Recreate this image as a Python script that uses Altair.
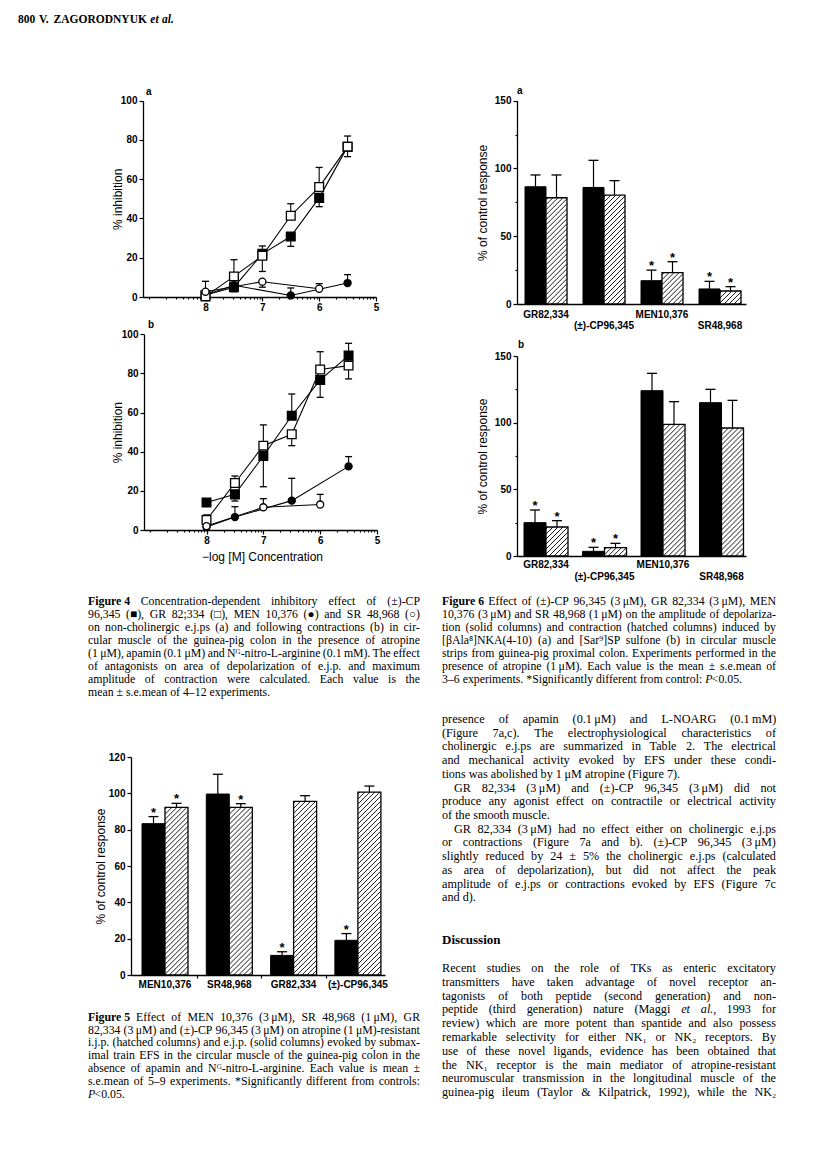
import numpy as np
import pandas as pd
import altair as alt

W, H = 800, 1158
MARGIN = 8


def px(v):
    return float(v) - MARGIN


def py(v):
    return float(v) - MARGIN


# ---------------- Figure 4 : % inhibition vs -log[M] ----------------
MARKERS = {
    "MEN 10,376": ("circle", "black", 50),
    "(±)-CP 96,345": ("square", "black", 76),
    "GR 82,334": ("square", "white", 76),
    "SR 48,968": ("circle", "white", 50),
}
DRAW_ORDER = ["MEN 10,376", "(±)-CP 96,345", "GR 82,334", "SR 48,968"]

conc_all = [8, 7.5, 7, 6.5, 6, 5.5]
conc_men = [8, 7.5, 6.5, 5.5]
conc_sr = [8, 7, 6]

f4a_cp = [1.0, 5.0, 22.0, 30.8, 50.5, 76.6]
f4a_cp_err = [None, 2.7, 26.0, 25.8, 46.0, 71.5]
f4a_gr = [0.3, 10.5, 21.0, 41.4, 56.0, 76.6]
f4a_gr_err = [None, 19.0, 13.0, 47.5, 66.0, 82.0]
f4a_men = [1.0, 6.0, 0.8, 7.1]
f4a_men_err = [None, None, 4.6, 11.4]
f4a_sr = [2.7, 7.8, 4.2]
f4a_sr_err = [8.0, 5.0, 6.8]

f4b_cp = [14.1, 18.2, 37.8, 58.4, 76.7, 89.1]
f4b_cp_err = [None, 14.8, 22.1, 69.5, 67.8, 95.4]
f4b_gr = [5.1, 24.0, 43.1, 48.9, 82.0, 84.0]
f4b_gr_err = [7.7, 27.6, 53.7, 43.1, 91.1, 77.2]
f4b_men = [1.5, 6.6, 15.0, 32.5]
f4b_men_err = [None, 11.9, 26.4, 37.5]
f4b_sr = [2.0, 11.6, 13.0]
f4b_sr_err = [None, 16.0, 18.2]

x4_major = [8, 7, 6, 5]
x4_minor = [9] + [round(d - np.log10(k), 4) for d in (9, 8, 7, 6) for k in range(2, 10)]
y4_ticks = [0, 20, 40, 60, 80, 100]

# ---------------- Figure 5 ----------------
f5_groups = ["MEN10,376", "SR48,968", "GR82,334", "(±)-CP96,345"]
f5_solid = [83.3, 99.6, 10.8, 19.1]
f5_solid_err = [87.2, 110.5, 12.8, 22.8]
f5_hatch = [92.3, 92.3, 95.6, 100.7]
f5_hatch_err = [94.5, 94.3, 98.7, 104.0]
f5_sig_solid = [True, False, True, True]
f5_sig_hatch = [True, True, False, False]

# ---------------- Figure 6 ----------------
f6_groups = ["GR82,334", "(±)-CP96,345", "MEN10,376", "SR48,968"]
f6a_solid = [86.5, 86.0, 17.2, 11.1]
f6a_solid_err = [95.2, 106.0, 25.0, 16.7]
f6a_hatch = [78.4, 80.4, 23.1, 9.6]
f6a_hatch_err = [95.2, 91.0, 31.2, 12.8]
f6a_sig_solid = [False, False, True, True]
f6a_sig_hatch = [False, False, True, True]

f6b_solid = [25.0, 3.5, 124.0, 115.0]
f6b_solid_err = [34.5, 6.5, 137.0, 125.0]
f6b_hatch = [21.75, 6.25, 98.75, 96.0]
f6b_hatch_err = [26.5, 9.5, 115.75, 116.75]
f6b_sig_solid = [True, True, False, False]
f6b_sig_hatch = [True, True, False, False]


def letter_layer(letter, x, y):
    return alt.Chart(pd.DataFrame({"t": [letter]})).mark_text(
        font="Liberation Sans", fontWeight="bold", fontSize=10, align="left",
        baseline="middle", color="black"
    ).encode(x=alt.value(px(x)), y=alt.value(py(y)), text="t:N")


def conc_panel(series, xl, xr, yb, yt, xtitle, letter, lxy):
    rows = []
    for name, xs, ys, es in series:
        for xv, yv, ev in zip(xs, ys, es):
            rows.append({"series": name, "x": float(xv), "y": float(yv),
                         "err": np.nan if ev is None else float(ev)})
    df = pd.DataFrame(rows)
    ux = (xr - xl) / (9.1 - 5.0)
    half_cap = 3.5 / ux
    df["xa"] = df["x"] - half_cap
    df["xb"] = df["x"] + half_cap
    eb = df.dropna(subset=["err"])

    xsc = alt.Scale(domain=[9.1, 5.0], range=[px(xl), px(xr)], nice=False, zero=False)
    ysc = alt.Scale(domain=[0, 100], range=[py(yb), py(yt)], nice=False, zero=False)
    major = "abs(datum.value - round(datum.value)) < 0.001 && datum.value < 8.5"
    xkw = dict(orient="bottom", offset=py(yb) - H, values=sorted(x4_major + x4_minor),
               labelExpr=f"({major}) ? format(datum.value, 'd') : ''",
               tickSize={"condition": {"test": major, "value": 4}, "value": 2},
               labelPadding=1, labelFlush=False, labelOverlap=False)
    if xtitle:
        xkw.update(title=xtitle, titleX=px(262), titleY=26, titleBaseline="middle",
                   titleAlign="center", titleFontSize=12)
    else:
        xkw.update(title=None)
    xax = alt.Axis(**xkw)
    yax = alt.Axis(orient="left", offset=-px(xl), values=y4_ticks, tickSize=4,
                   labelPadding=2, labelOverlap=False, title="% inhibition",
                   titleAngle=270, titleX=117 - xl, titleY=py((yb + yt) / 2),
                   titleAlign="center", titleBaseline="middle")

    def X(f):
        return alt.X(f, scale=xsc, axis=xax)

    def Y(f):
        return alt.Y(f, scale=ysc, axis=yax)

    layers = [
        alt.Chart(df).mark_line(color="black", strokeWidth=1.1).encode(
            x=X("x:Q"), y=Y("y:Q"), detail="series:N"),
        alt.Chart(eb).mark_rule(color="black", strokeWidth=1.1).encode(
            x=X("x:Q"), y=Y("y:Q"), y2="err:Q"),
        alt.Chart(eb).mark_rule(color="black", strokeWidth=1.3).encode(
            x=X("xa:Q"), x2="xb:Q", y=Y("err:Q")),
    ]
    for name in DRAW_ORDER:
        shape, fill, size = MARKERS[name]
        sub = df[df["series"] == name]
        layers.append(alt.Chart(sub).mark_point(
            shape=shape, filled=True, fill=fill, stroke="black", strokeWidth=1.3,
            size=size, opacity=1).encode(x=X("x:Q"), y=Y("y:Q")))
    layers.append(letter_layer(letter, *lxy))
    return alt.layer(*layers)


def bar_panel(groups, solid, solid_err, hatch, hatch_err, sig_solid, sig_hatch,
              c0, step, bw_px, xl, xr, yb, yt, ymax, ymajor, yminor, title_x,
              label_rows, xticks=None, letter=None, lxy=None):
    uy = (yb - yt) / ymax
    bw = bw_px / step
    rows = []
    for i, g in enumerate(groups):
        rows.append(dict(g=g, kind="solid", x1=i - bw, x2=float(i), xc=i - bw / 2,
                         v=solid[i], err=solid_err[i], sig=sig_solid[i]))
        rows.append(dict(g=g, kind="hatch", x1=float(i), x2=i + bw, xc=i + bw / 2,
                         v=hatch[i], err=hatch_err[i], sig=sig_hatch[i]))
    df = pd.DataFrame(rows)
    df["base"] = 0.0
    half_cap = 5.0 / step
    df["xa"] = df["xc"] - half_cap
    df["xb"] = df["xc"] + half_cap

    hrows = []
    spacing = 5.0
    for i, v in enumerate(hatch):
        w, h = bw_px, v * uy
        c = -h + 2.0
        while c < w:
            xa = max(0.0, c)
            xb = min(w, h + c)
            if xb - xa > 0.4:
                hrows.append(dict(x=i + xa / step, y=(xa - c) / uy,
                                  x2=i + xb / step, y2=(xb - c) / uy))
            c += spacing
    hd = pd.DataFrame(hrows)

    xsc = alt.Scale(domain=[(xl - c0) / step, (xr - c0) / step],
                    range=[px(xl), px(xr)], nice=False, zero=False)
    ysc = alt.Scale(domain=[0, ymax], range=[py(yb), py(yt)], nice=False, zero=False)
    xkw = dict(orient="bottom", offset=py(yb) - H, labels=False, title=None)
    if xticks:
        xkw.update(values=xticks, ticks=True, tickSize=3)
    else:
        xkw.update(ticks=False)
    xax = alt.Axis(**xkw)
    major_test = " || ".join(f"datum.value == {m}" for m in ymajor)
    yax = alt.Axis(orient="left", offset=-px(xl), values=sorted(ymajor + yminor),
                   labelExpr=f"({major_test}) ? datum.label : ''",
                   tickSize={"condition": {"test": major_test, "value": 4}, "value": 2},
                   labelPadding=2, labelOverlap=False, title="% of control response",
                   titleAngle=270, titleX=title_x - xl, titleY=py((yb + yt) / 2),
                   titleAlign="center", titleBaseline="middle")

    def X(f):
        return alt.X(f, scale=xsc, axis=xax)

    def Y(f):
        return alt.Y(f, scale=ysc, axis=yax)

    sdf = df[df["kind"] == "solid"]
    hdf = df[df["kind"] == "hatch"]
    layers = [
        alt.Chart(sdf).mark_rect(fill="black", stroke="black", strokeWidth=1).encode(
            x=X("x1:Q"), x2="x2:Q", y=Y("base:Q"), y2="v:Q"),
        alt.Chart(hdf).mark_rect(fill="white").encode(
            x=X("x1:Q"), x2="x2:Q", y=Y("base:Q"), y2="v:Q"),
        alt.Chart(hd).mark_rule(color="black", strokeWidth=0.9).encode(
            x=X("x:Q"), x2="x2:Q", y=Y("y:Q"), y2="y2:Q"),
        alt.Chart(hdf).mark_rect(fill="white", fillOpacity=0, stroke="black",
                                 strokeWidth=1.3).encode(
            x=X("x1:Q"), x2="x2:Q", y=Y("base:Q"), y2="v:Q"),
        alt.Chart(df).mark_rule(color="black", strokeWidth=1.2).encode(
            x=X("xc:Q"), y=Y("v:Q"), y2="err:Q"),
        alt.Chart(df).mark_rule(color="black", strokeWidth=1.3).encode(
            x=X("xa:Q"), x2="xb:Q", y=Y("err:Q")),
        alt.Chart(df[df["sig"]]).mark_text(
            text="*", font="Liberation Sans", fontWeight="bold", fontSize=13,
            align="center", baseline="alphabetic", color="black").encode(
            x=X("xc:Q"), y=Y("err:Q")),
    ]
    for ly, idxs in label_rows:
        ldf = pd.DataFrame({"name": [groups[i] for i in idxs],
                            "xc": [float(i) for i in idxs]})
        layers.append(alt.Chart(ldf).mark_text(
            font="Liberation Sans", fontWeight="bold", fontSize=10, align="center",
            baseline="middle", color="black").encode(
            x=X("xc:Q"), y=alt.value(py(ly)), text="name:N"))
    if letter:
        layers.append(letter_layer(letter, *lxy))
    return alt.layer(*layers)


fig4a = conc_panel(
    [("MEN 10,376", conc_men, f4a_men, f4a_men_err),
     ("(±)-CP 96,345", conc_all, f4a_cp, f4a_cp_err),
     ("GR 82,334", conc_all, f4a_gr, f4a_gr_err),
     ("SR 48,968", conc_sr, f4a_sr, f4a_sr_err)],
    143, 376, 297, 100.7, None, "a", (146, 92))
fig4b = conc_panel(
    [("MEN 10,376", conc_men, f4b_men, f4b_men_err),
     ("(±)-CP 96,345", conc_all, f4b_cp, f4b_cp_err),
     ("GR 82,334", conc_all, f4b_gr, f4b_gr_err),
     ("SR 48,968", conc_sr, f4b_sr, f4b_sr_err)],
    144, 377, 530, 334.3, "\u2212log [M] Concentration", "b", (148, 325))

fig5 = bar_panel(f5_groups, f5_solid, f5_solid_err, f5_hatch, f5_hatch_err,
                 f5_sig_solid, f5_sig_hatch,
                 c0=165, step=64.3, bw_px=23, xl=131, xr=385, yb=975, yt=757, ymax=120,
                 ymajor=[0, 20, 40, 60, 80, 100, 120], yminor=[], title_x=100,
                 label_rows=[(985, [0, 1, 2, 3])], xticks=[0.5, 1.5, 2.5])
fig6a = bar_panel(f6_groups, f6a_solid, f6a_solid_err, f6a_hatch, f6a_hatch_err,
                  f6a_sig_solid, f6a_sig_hatch,
                  c0=546, step=58, bw_px=21, xl=517, xr=746, yb=304, yt=100.7, ymax=150,
                  ymajor=[0, 50, 100, 150], yminor=[25, 75, 125], title_x=482,
                  label_rows=[(315, [0, 2]), (326, [1, 3])], letter="a", lxy=(517, 91))
fig6b = bar_panel(f6_groups, f6b_solid, f6b_solid_err, f6b_hatch, f6b_hatch_err,
                  f6b_sig_solid, f6b_sig_hatch,
                  c0=546, step=58.5, bw_px=22, xl=517, xr=746, yb=556, yt=356, ymax=150,
                  ymajor=[0, 50, 100, 150], yminor=[25, 75, 125], title_x=482,
                  label_rows=[(565, [0, 2]), (577, [1, 3])], letter="b", lxy=(518, 345))

# ---------------- page text ----------------
header_lines = ["§800 §V. §ZAGORODNYUK ^et ^al.$"]

fig4_caption = [
    "§Figure\u00a04 Concentration-dependent inhibitory effect of (±)-CP",
    "96,345 (■), GR 82;334 (□), MEN 10,376 (●) and SR 48,968 (○)",
    "on non-cholinergic e.j.ps (a) and following contractions (b) in cir-",
    "cular muscle of the guinea-pig colon in the presence of atropine",
    "(1\u2009μM), apamin (0.1\u2009μM) and Nᴳ-nitro-L-arginine (0.1\u2009mM). The effect",
    "of antagonists on area of depolarization of e.j.p. and maximum",
    "amplitude of contraction were calculated. Each value is the",
    "mean ± s.e.mean of 4–12 experiments.$",
]
fig5_caption = [
    "§Figure\u00a05 Effect of MEN 10,376 (3\u2009μM), SR 48,968 (1\u2009μM), GR",
    "82,334 (3\u2009μM) and (±)-CP 96,345 (3\u2009μM) on atropine (1\u2009μM)-resistant",
    "i.j.p. (hatched columns) and e.j.p. (solid columns) evoked by submax-",
    "imal train EFS in the circular muscle of the guinea-pig colon in the",
    "absence of apamin and Nᴳ-nitro-L-arginine. Each value is mean ±",
    "s.e.mean of 5–9 experiments. *Significantly different from controls:",
    "~P|<0.05.$",
]
fig6_caption = [
    "§Figure\u00a06 Effect of (±)-CP 96,345 (3\u2009μM), GR 82,334 (3\u2009μM), MEN",
    "10,376 (3\u2009μM) and SR 48,968 (1\u2009μM) on the amplitude of depolariza-",
    "tion (solid columns) and contraction (hatched columns) induced by",
    "[βAla⁸]NKA(4-10) (a) and [Sar⁹]SP sulfone (b) in circular muscle",
    "strips from guinea-pig proximal colon. Experiments performed in the",
    "presence of atropine (1\u2009μM). Each value is the mean ± s.e.mean of",
    "3–6 experiments. *Significantly different from control: ~P|<0.05.$",
]
body_text = [
    "presence of apamin (0.1\u2009μM) and L-NOARG (0.1\u2009mM)",
    "(Figure 7a,c). The electrophysiological characteristics of",
    "cholinergic e.j.ps are summarized in Table 2. The electrical",
    "and mechanical activity evoked by EFS under these condi-",
    "tions was abolished by 1\u2009μM atropine (Figure 7).$",
    ">GR 82,334 (3\u2009μM) and (±)-CP 96,345 (3\u2009μM) did not",
    "produce any agonist effect on contractile or electrical activity",
    "of the smooth muscle.$",
    ">GR 82,334 (3\u2009μM) had no effect either on cholinergic e.j.ps",
    "or contractions (Figure 7a and b). (±)-CP 96,345 (3\u2009μM)",
    "slightly reduced by 24 ± 5% the cholinergic e.j.ps (calculated",
    "as area of depolarization), but did not affect the peak",
    "amplitude of e.j.ps or contractions evoked by EFS (Figure 7c",
    "and d).$",
]
discussion_title = ["§Discussion$"]
discussion_text = [
    "Recent studies on the role of TKs as enteric excitatory",
    "transmitters have taken advantage of novel receptor an-",
    "tagonists of both peptide (second generation) and non-",
    "peptide (third generation) nature (Maggi ~et ~al., 1993 for",
    "review) which are more potent than spantide and also possess",
    "remarkable selectivity for either NK₁ or NK₂ receptors. By",
    "use of these novel ligands, evidence has been obtained that",
    "the NK₁ receptor is the main mediator of atropine-resistant",
    "neuromuscular transmission in the longitudinal muscle of the",
    "guinea-pig ileum (Taylor & Kilpatrick, 1992), while the NK₂",
]

TNR = {" ": 250, "!": 333, '"': 408, "%": 833, "&": 778, "'": 180, "(": 333, ")": 333,
       "*": 500, "+": 564, ",": 250, "-": 333, ".": 250, "/": 278, ":": 278, ";": 278,
       "<": 564, "=": 564, ">": 564, "?": 444, "[": 333, "]": 333,
       "A": 722, "B": 667, "C": 667, "D": 722, "E": 611, "F": 556, "G": 722, "H": 722,
       "I": 333, "J": 389, "K": 722, "L": 611, "M": 889, "N": 722, "O": 722, "P": 556,
       "Q": 722, "R": 667, "S": 556, "T": 611, "U": 722, "V": 722, "W": 944, "X": 722,
       "Y": 722, "Z": 611, "a": 444, "b": 500, "c": 444, "d": 500, "e": 444, "f": 333,
       "g": 500, "h": 500, "i": 278, "j": 278, "k": 500, "l": 278, "m": 778, "n": 500,
       "o": 500, "p": 500, "q": 500, "r": 333, "s": 389, "t": 278, "u": 500, "v": 500,
       "w": 722, "x": 500, "y": 500, "z": 444, "±": 549, "μ": 576, "–": 500, "■": 604,
       "□": 604, "●": 604, "○": 604, "β": 550, "ᴳ": 420, "⁸": 320, "⁹": 320,
       "₁": 320, "₂": 320, "\u2009": 167, "\u00a0": 250}


def parts_of(word):
    out = []
    for p in word.split("|"):
        if p.startswith("§"):
            out.append((p[1:], "bold"))
        elif p.startswith("^"):
            out.append((p[1:], "bi"))
        elif p.startswith("~"):
            out.append((p[1:], "italic"))
        else:
            out.append((p, "normal"))
    return out


def em_width(text, style):
    f = 1.05 if style in ("bold", "bi") else 1.0
    return f * sum(TNR.get(ch, 500) for ch in text) / 1000.0


def word_em(word):
    return sum(em_width(t, s) for t, s in parts_of(word))


def layout_block(lines, x0, x1, yc0, lh, fs, out, indent=12):
    for k, ln in enumerate(lines):
        ind = ln.startswith(">")
        ln = ln.lstrip(">")
        just = not ln.endswith("$")
        ln = ln.rstrip("$")
        words = ln.split(" ")
        base = yc0 + k * lh + 0.24 * fs
        xs = x0 + (indent if ind else 0)
        widths = [word_em(w) * fs for w in words]
        if just and len(words) > 1:
            gap = max((x1 - xs - sum(widths)) / (len(words) - 1), 0.12 * fs)
        else:
            gap = 0.25 * fs
        x = xs
        for w, wd in zip(words, widths):
            xx = x
            for t, s in parts_of(w):
                out.append({"t": t, "x": px(xx), "y": py(base), "fs": fs, "style": s})
                xx += em_width(t, s) * fs
            x += wd + gap


words = []
layout_block(header_lines, 18, 200, 20, 13, 11.5, words)
layout_block(fig4_caption, 88, 420, 602, 13.0, 11.8, words)
layout_block(fig5_caption, 88, 420, 1018, 12.8, 11.8, words)
layout_block(fig6_caption, 442, 776, 602, 12.95, 11.8, words)
layout_block(body_text, 442, 776, 720, 13.72, 12.2, words)
layout_block(discussion_title, 442, 776, 941, 14, 13, words)
layout_block(discussion_text, 442, 776, 969, 13.8, 12.2, words)
wdf = pd.DataFrame(words)


def text_layer(style):
    kw = dict(font="Liberation Serif", align="left", baseline="alphabetic", color="black")
    if style in ("bold", "bi"):
        kw["fontWeight"] = "bold"
    if style in ("italic", "bi"):
        kw["fontStyle"] = "italic"
    sub = wdf[wdf["style"] == style]
    return alt.Chart(sub).mark_text(**kw).encode(
        x=alt.X("x:Q", scale=None, axis=None),
        y=alt.Y("y:Q", scale=None, axis=None),
        size=alt.Size("fs:Q", scale=None, legend=None),
        text="t:N")


text_layers = [text_layer(s) for s in ["normal", "bold", "italic", "bi"]
               if (wdf["style"] == s).any()]

chart = alt.layer(fig4a, fig4b, fig5, fig6a, fig6b, *text_layers).resolve_scale(
    x="independent", y="independent"
).properties(
    width=W, height=H, padding=0, autosize=alt.AutoSizeParams(type="none")
).configure_view(
    stroke="transparent"
).configure_axis(
    grid=False, domainColor="black", domainWidth=1.3, tickColor="black", tickWidth=1.2,
    labelColor="black", labelFont="Liberation Sans", labelFontWeight="bold",
    labelFontSize=10, titleColor="black", titleFont="Liberation Sans",
    titleFontWeight="normal", titleFontSize=12
)

chart.save("out.html", embed_options={"renderer": "svg", "actions": False})
